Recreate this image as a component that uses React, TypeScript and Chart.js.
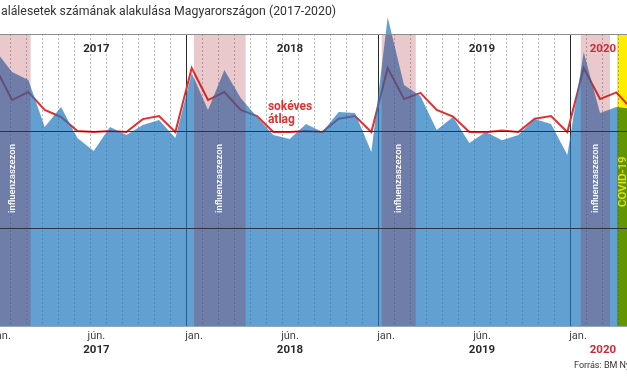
import React, { useEffect, useRef } from "react";
import { Chart, registerables } from "chart.js";

Chart.register(...registerables);

// ---- data (monthly, Jan 2017 – Apr 2020) ----
const months = [
  "2017-01", "2017-02", "2017-03", "2017-04", "2017-05", "2017-06", "2017-07", "2017-08", "2017-09", "2017-10", "2017-11", "2017-12",
  "2018-01", "2018-02", "2018-03", "2018-04", "2018-05", "2018-06", "2018-07", "2018-08", "2018-09", "2018-10", "2018-11", "2018-12",
  "2019-01", "2019-02", "2019-03", "2019-04", "2019-05", "2019-06", "2019-07", "2019-08", "2019-09", "2019-10", "2019-11", "2019-12",
  "2020-01", "2020-02", "2020-03", "2020-04",
];
const deaths = [
  2913, 2805, 2764, 2522, 2625, 2466, 2399, 2522, 2481, 2533, 2558, 2466,
  2800, 2610, 2815, 2671, 2574, 2481, 2461, 2538, 2497, 2599, 2594, 2394,
  3087, 2738, 2682, 2507, 2574, 2440, 2497, 2455, 2481, 2563, 2538, 2378,
  2908, 2594, 2625, 2615,
];
const longTermAverage = [
  2825, 2661, 2702, 2610, 2574, 2502, 2497, 2502, 2497, 2563, 2579, 2497,
  2825, 2661, 2702, 2610, 2579, 2497, 2497, 2502, 2497, 2565, 2579, 2497,
  2825, 2666, 2698, 2610, 2576, 2497, 2495, 2505, 2497, 2565, 2579, 2497,
  2825, 2666, 2700, 2610,
];
const tickLabels = ["jan.", "jún.", "jan.", "jún.", "jan.", "jún.", "jan."];
const yearLabels = ["2017", "2018", "2019", "2020"];
const gridValues = [1500, 2000, 2500, 3000];
const fluLabel = "influenzaszezon";
const covidLabel = "COVID-19";
const avgLabel = ["sokéves", "átlag"];

// ---- layout constants (calendar months since 1 Jan 2017) ----
const TICK_POS = [0.5, 6.4, 12.5, 18.5, 24.5, 30.5, 36.5];
const YEAR_POS = [6.4, 18.5, 30.5, 38.06];
const FLU_SPANS = [
  [-1, 2.29],
  [12.5, 15.73],
  [24.23, 26.36],
  [36.67, 38.5],
];
const COVID_SPAN = [38.94, 42];

const FONT = "Roboto, 'Noto Sans', Arial, sans-serif";

const overlayPlugin = {
  id: "overlay",
  beforeDatasetsDraw(chart: any) {
    const { ctx, chartArea } = chart;
    const xs = chart.scales.x;
    const ys = chart.scales.y;
    const top = Math.round(ys.getPixelForValue(3000));
    const bottom = chartArea.bottom;
    ctx.save();
    for (let m = 0; m <= 41; m++) {
      const px = Math.round(xs.getPixelForValue(m)) + 0.5;
      if (px < -2 || px > chart.width + 2) continue;
      ctx.beginPath();
      if (m % 12 === 0) {
        ctx.setLineDash([]);
        ctx.strokeStyle = "#2a2a2a";
      } else {
        ctx.setLineDash([2, 2]);
        ctx.strokeStyle = "#b8b8b8";
      }
      ctx.lineWidth = 1;
      ctx.moveTo(px, top);
      ctx.lineTo(px, bottom);
      ctx.stroke();
    }
    ctx.restore();
  },
  afterDatasetsDraw(chart: any) {
    const { ctx, chartArea } = chart;
    const xs = chart.scales.x;
    const ys = chart.scales.y;
    const top = Math.round(ys.getPixelForValue(3000));
    const bottom = chartArea.bottom;

    ctx.save();
    ctx.fillStyle = "rgba(155,0,12,0.21)";
    FLU_SPANS.forEach(([a, b]) => {
      const x0 = xs.getPixelForValue(a);
      const x1 = xs.getPixelForValue(b);
      ctx.fillRect(x0, top, x1 - x0, bottom - top);
    });
    ctx.globalCompositeOperation = "multiply";
    ctx.fillStyle = "rgb(255,238,0)";
    {
      const x0 = xs.getPixelForValue(COVID_SPAN[0]);
      const x1 = xs.getPixelForValue(COVID_SPAN[1]);
      ctx.fillRect(x0, top, x1 - x0, bottom - top);
    }
    ctx.restore();

    ctx.save();
    // vertical labels in bands
    const textStartY = 213;
    FLU_SPANS.forEach(([a, b], i) => {
      const lo = i === 0 ? 0 : a;
      const cx = (xs.getPixelForValue(lo) + xs.getPixelForValue(b)) / 2;
      ctx.save();
      ctx.translate(cx, textStartY);
      ctx.rotate(-Math.PI / 2);
      ctx.fillStyle = "#ffffff";
      ctx.font = `500 9.5px ${FONT}`;
      ctx.textAlign = "left";
      ctx.textBaseline = "middle";
      ctx.fillText(fluLabel, 0, 0);
      ctx.restore();
    });
    {
      const cx = xs.getPixelForValue(COVID_SPAN[0]) + 6;
      ctx.save();
      ctx.translate(cx, 207);
      ctx.rotate(-Math.PI / 2);
      ctx.fillStyle = "#e8e600";
      ctx.font = `500 11.5px ${FONT}`;
      ctx.textAlign = "left";
      ctx.textBaseline = "middle";
      ctx.fillText(covidLabel, 0, 0);
      ctx.restore();
    }

    // year labels at top and bottom
    yearLabels.forEach((label, i) => {
      const px = xs.getPixelForValue(YEAR_POS[i]);
      const isLast = i === yearLabels.length - 1;
      ctx.fillStyle = isLast ? "#cc2a36" : "#2b2b2b";
      ctx.font = `bold 11.5px ${FONT}`;
      ctx.textAlign = "center";
      ctx.textBaseline = "middle";
      ctx.fillText(label, px, top + 15);
      ctx.fillText(label, px, bottom + 24.5);
    });

    // long-term average label
    ctx.fillStyle = "#e0312f";
    ctx.font = `bold 12px ${FONT}`;
    ctx.textAlign = "left";
    ctx.textBaseline = "alphabetic";
    const lx = xs.getPixelForValue(17.12);
    ctx.fillText(avgLabel[0], lx, ys.getPixelForValue(2610));
    ctx.fillText(avgLabel[1], lx, ys.getPixelForValue(2610) + 13);
    ctx.restore();
  },
};

export default function App() {
  const canvasRef = useRef<HTMLCanvasElement | null>(null);

  useEffect(() => {
    const canvas = canvasRef.current;
    if (!canvas) return;
    const idx = months.map((_, i) => i);
    const chart = new Chart(canvas, {
      type: "line",
      data: {
        datasets: [
          {
            label: "halálesetek",
            data: idx.map((i) => ({ x: i, y: deaths[i] })),
            xAxisID: "xd",
            yAxisID: "y",
            fill: "start",
            backgroundColor: "rgba(33,119,191,0.7)",
            borderColor: "rgba(0,0,0,0)",
            borderWidth: 0,
            pointRadius: 0,
            tension: 0,
            order: 1,
          },
          {
            label: "sokéves átlag",
            data: idx.map((i) => ({ x: i, y: longTermAverage[i] })),
            xAxisID: "xd",
            yAxisID: "y",
            fill: false,
            borderColor: "#e0302f",
            borderWidth: 2,
            pointRadius: 0,
            tension: 0,
            order: 2,
          },
        ],
      },
      options: {
        responsive: false,
        animation: false,
        events: [],
        layout: { padding: 0, autoPadding: false },
        plugins: { legend: { display: false }, tooltip: { enabled: false }, title: { display: false } },
        scales: {
          xd: {
            type: "linear",
            display: false,
            min: 0.2633,
            max: 38.651,
          },
          x: {
            type: "linear",
            position: "bottom",
            min: 0.375,
            max: 39.5625,
            grid: { display: false, drawTicks: false, tickLength: 0 },
            border: { display: false },
            afterBuildTicks: (scale: any) => {
              scale.ticks = TICK_POS.map((v) => ({ value: v }));
            },
            afterFit: (scale: any) => {
              scale.height = 50;
              scale.paddingLeft = 0;
              scale.paddingRight = 0;
            },
            ticks: {
              autoSkip: false,
              maxRotation: 0,
              minRotation: 0,
              padding: 4,
              color: "#444",
              font: { family: FONT, size: 11 },
              callback: (value: any) => {
                const i = TICK_POS.indexOf(Number(value));
                return i >= 0 ? tickLabels[i] : "";
              },
            },
          },
          y: {
            type: "linear",
            position: "left",
            min: 1500,
            max: 3175,
            afterBuildTicks: (scale: any) => {
              scale.ticks = gridValues.map((v) => ({ value: v }));
            },
            afterFit: (scale: any) => {
              scale.width = 0;
              scale.paddingTop = 0;
              scale.paddingBottom = 0;
            },
            ticks: { display: false },
            border: { display: false },
            grid: {
              z: 1,
              drawTicks: false,
              lineWidth: 1,
              color: (c: any) => {
                const v = c.tick && c.tick.value;
                if (v === 3000) return "#8c8c8c";
                if (v === 1500) return "rgba(60,95,135,0.55)";
                return "#2c3440";
              },
            },
          },
        },
      },
      plugins: [overlayPlugin],
    });
    return () => chart.destroy();
  }, []);

  return (
    <div
      style={{
        position: "fixed",
        left: 0,
        top: 0,
        width: 627,
        height: 376,
        background: "#fff",
        overflow: "hidden",
        fontFamily: FONT,
      }}
    >
      <canvas ref={canvasRef} width={627} height={376} style={{ position: "absolute", left: 0, top: 0, width: 627, height: 376 }} />
      <div
        style={{
          position: "absolute",
          left: 1,
          top: 3,
          fontSize: 12.3,
          color: "#333",
          whiteSpace: "nowrap",
          lineHeight: "16px",
        }}
      >
        alálesetek számának alakulása Magyarországon (2017-2020)
      </div>
      <div
        style={{
          position: "absolute",
          left: 574,
          top: 359,
          fontSize: 9,
          color: "#333",
          whiteSpace: "nowrap",
          lineHeight: "12px",
        }}
      >
        Forrás: BM Ny
      </div>
    </div>
  );
}
